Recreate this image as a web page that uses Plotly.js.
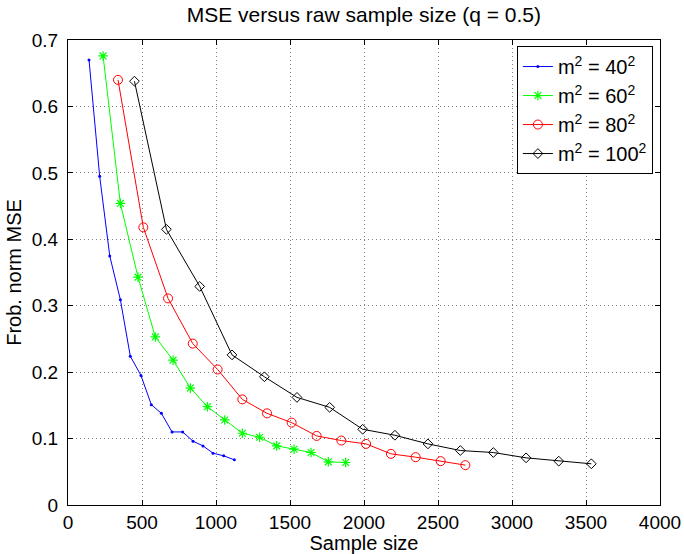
<!DOCTYPE html>
<html><head><meta charset="utf-8">
<script src="https://cdn.plot.ly/plotly-3.0.1.min.js"></script>
<style>body{margin:0;background:#fff}#chart{width:684px;height:554px}</style>
</head><body><div id="chart"></div>
<script>
const x40 = [142,214,282,354,421,493,563,631,703,775,845,912,980,1052,1124];
const y40 = [0.670,0.495,0.375,0.309,0.224,0.195,0.151,0.138,0.110,0.110,0.096,0.089,0.078,0.074,0.068];
const x60 = [237,354,473,590,710,827,942,1059,1178,1295,1410,1527,1642,1759,1876];
const y60 = [0.676,0.454,0.343,0.253,0.218,0.176,0.148,0.128,0.108,0.102,0.089,0.084,0.079,0.065,0.064];
const x80 = [338,509,676,843,1011,1178,1345,1511,1680,1847,2014,2182,2349,2518,2685];
const y80 = [0.640,0.418,0.311,0.243,0.204,0.159,0.138,0.124,0.104,0.097,0.092,0.077,0.072,0.066,0.060];
const x100 = [449,665,890,1108,1327,1547,1768,1991,2209,2432,2651,2874,3095,3316,3536];
const y100 = [0.638,0.415,0.329,0.226,0.193,0.162,0.147,0.114,0.105,0.092,0.082,0.079,0.071,0.066,0.062];
const names = ['m<sup>2</sup> = 40<sup>2</sup>','m<sup>2</sup> = 60<sup>2</sup>','m<sup>2</sup> = 80<sup>2</sup>','m<sup>2</sup> = 100<sup>2</sup>'];
const xTicks = [0,500,1000,1500,2000,2500,3000,3500,4000];
const yTicks = [0,0.1,0.2,0.3,0.4,0.5,0.6,0.7];

const FONT = 'Liberation Sans, Arial, sans-serif';
const traces = [
  {x:x40,y:y40,name:names[0],mode:'lines+markers',line:{color:'#0000ff',width:1},marker:{symbol:'circle',size:3,color:'#0000ff'}},
  {x:x60,y:y60,name:names[1],mode:'lines+markers',line:{color:'#00ff00',width:1},marker:{symbol:'asterisk-open',size:8,color:'#00ff00',line:{color:'#00ff00',width:1.2}}},
  {x:x80,y:y80,name:names[2],mode:'lines+markers',line:{color:'#ff0000',width:1},marker:{symbol:'circle-open',size:9,color:'#ff0000',line:{width:1}}},
  {x:x100,y:y100,name:names[3],mode:'lines+markers',line:{color:'#000000',width:1},marker:{symbol:'diamond-open',size:7.5,color:'#000000',line:{width:1}}}
];
const axisCommon = {
  showline:true, linecolor:'#000', linewidth:1, mirror:'ticks',
  ticks:'inside', ticklen:5, tickcolor:'#000', tickwidth:1,
  showgrid:true, gridcolor:'#808080', griddash:'1px,3px', gridwidth:1,
  zeroline:false, tickfont:{family:FONT,size:19,color:'#000'}
};
const layout = {
  width:684, height:554,
  margin:{l:68,r:24,t:40,b:49},
  paper_bgcolor:'#fff', plot_bgcolor:'#fff',
  font:{family:FONT,color:'#000'},
  title:{text:'MSE versus raw sample size (q = 0.5)',font:{family:FONT,size:21,color:'#000'},x:0.532,xanchor:'center',y:0.973,yanchor:'middle'},
  xaxis:Object.assign({},axisCommon,{range:[0,4000],tickvals:xTicks,ticktext:xTicks.map(String),ticklabelstandoff:0,
    title:{text:'Sample size',font:{family:FONT,size:20},standoff:0}}),
  yaxis:Object.assign({},axisCommon,{range:[0,0.7],tickvals:yTicks,ticktext:yTicks.map(v=>String(v)),ticklabelstandoff:5,
    title:{text:'Frob. norm MSE',font:{family:FONT,size:20},standoff:4}}),
  legend:{x:0.988,y:0.987,xanchor:'right',yanchor:'top',bgcolor:'#fff',bordercolor:'#000',borderwidth:1,
    font:{family:FONT,size:20,color:'#000'},tracegroupgap:0},
  showlegend:true
};
Plotly.newPlot('chart',traces,layout,{staticPlot:true});
</script></body></html>
